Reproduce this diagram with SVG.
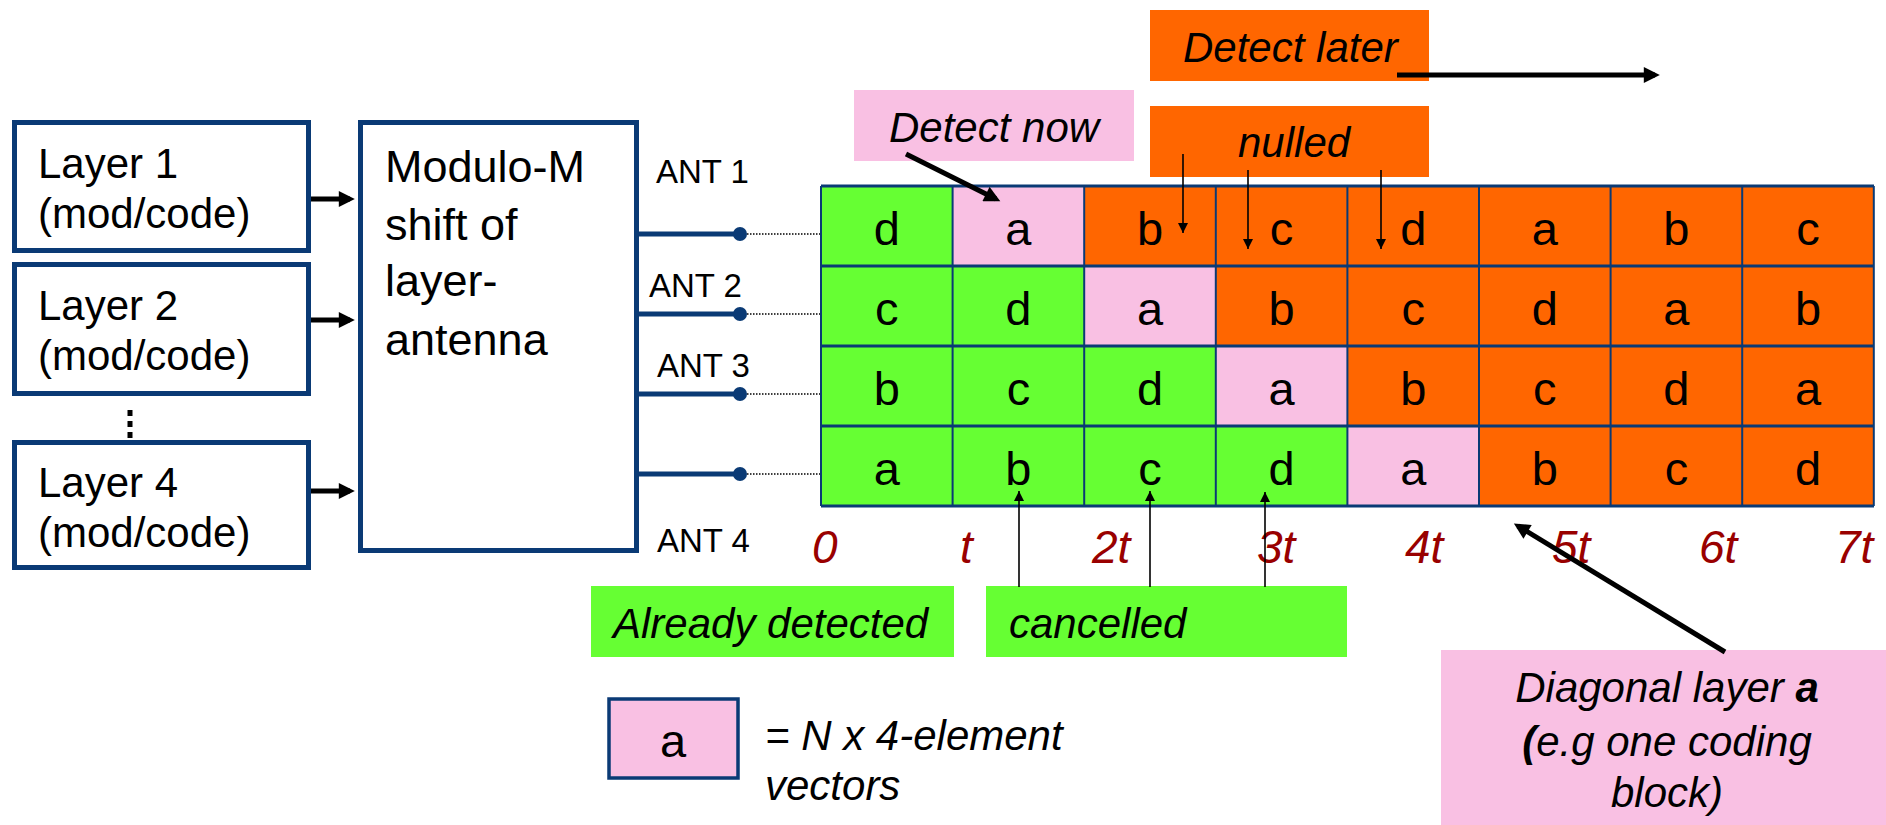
<svg xmlns="http://www.w3.org/2000/svg" width="1886" height="825" viewBox="0 0 1886 825">
  <style>
    .box { fill: #ffffff; stroke: #0A3A75; stroke-width: 5; }
    .lbl { font-family: "Liberation Sans", Arial, sans-serif; fill: #000; }
    .it { font-family: "Liberation Sans", Arial, sans-serif; font-style: italic; fill: #000; font-size: 42px; }
    .cellG { fill: #66FF33; }
    .cellP { fill: #F9C0E3; }
    .cellO { fill: #FF6600; }
    .letter { font-family: "Liberation Sans", Arial, sans-serif; font-size: 47px; fill: #000; text-anchor: middle; }
    .time { font-family: "Liberation Sans", Arial, sans-serif; font-style: italic; font-size: 46px; fill: #990000; }
    .thick { stroke: #000; stroke-width: 5; fill: none; }
    .thin { stroke: #000; stroke-width: 1.6; fill: none; }
    .ant { stroke: #0A3A75; stroke-width: 5; }
    .dots { stroke: #000; stroke-width: 1.5; stroke-dasharray: 1.5 1.5; }
    .gridH { stroke: #0A3A75; stroke-width: 3; }
    .gridV { stroke: #0A3A75; stroke-width: 2; }
  </style>
  <defs>
    <marker id="headThick" viewBox="0 0 10 10" refX="7" refY="5" markerWidth="18" markerHeight="16" markerUnits="userSpaceOnUse" orient="auto">
      <path d="M0,0 L10,5 L0,10 z" fill="#000"/>
    </marker>
    <marker id="headThin" viewBox="0 0 10 10" refX="10" refY="5" markerWidth="16" markerHeight="10" markerUnits="userSpaceOnUse" orient="auto">
      <path d="M0,0 L10,5 L0,10 z" fill="#000"/>
    </marker>
  </defs>

  <!-- layer sources -->
  <g id="layer1">
    <rect class="box" x="14.5" y="122.5" width="294" height="128"/>
    <text class="lbl" font-size="42" x="38" y="178">Layer 1</text>
    <text class="lbl" font-size="42" x="38" y="228">(mod/code)</text>
  </g>
  <g id="layer2">
    <rect class="box" x="14.5" y="264.5" width="294" height="129"/>
    <text class="lbl" font-size="42" x="38" y="320">Layer 2</text>
    <text class="lbl" font-size="42" x="38" y="370">(mod/code)</text>
  </g>
  <g id="ellipsis">
    <line x1="130" y1="410" x2="130" y2="440" stroke="#000" stroke-width="5" stroke-dasharray="6 5"/>
  </g>
  <g id="layer4">
    <rect class="box" x="14.5" y="442.5" width="294" height="125"/>
    <text class="lbl" font-size="42" x="38" y="497">Layer 4</text>
    <text class="lbl" font-size="42" x="38" y="547">(mod/code)</text>
  </g>

  <!-- shifter -->
  <g id="modulo">
    <rect class="box" x="360.5" y="122.5" width="276" height="428"/>
    <text class="lbl" font-size="45" x="385" y="182">Modulo-M</text>
    <text class="lbl" font-size="45" x="385" y="240">shift of</text>
    <text class="lbl" font-size="45" x="385" y="296">layer-</text>
    <text class="lbl" font-size="45" x="385" y="355">antenna</text>
  </g>

  <!-- antenna outputs -->
  <g id="antennas">
    <line class="ant" x1="639" y1="234" x2="740" y2="234"/>
    <line class="ant" x1="639" y1="314" x2="740" y2="314"/>
    <line class="ant" x1="639" y1="394" x2="740" y2="394"/>
    <line class="ant" x1="639" y1="474" x2="740" y2="474"/>
    <circle cx="740" cy="234" r="7" fill="#0A3A75"/>
    <circle cx="740" cy="314" r="7" fill="#0A3A75"/>
    <circle cx="740" cy="394" r="7" fill="#0A3A75"/>
    <circle cx="740" cy="474" r="7" fill="#0A3A75"/>
    <line class="dots" x1="747" y1="234" x2="821" y2="234"/>
    <line class="dots" x1="747" y1="314" x2="821" y2="314"/>
    <line class="dots" x1="747" y1="394" x2="821" y2="394"/>
    <line class="dots" x1="747" y1="474" x2="821" y2="474"/>
    <text class="lbl" font-size="33" x="656" y="183">ANT 1</text>
    <text class="lbl" font-size="33" x="649" y="297">ANT 2</text>
    <text class="lbl" font-size="33" x="657" y="377">ANT 3</text>
    <text class="lbl" font-size="33" x="657" y="552">ANT 4</text>
  </g>

  <!-- space-time grid -->
  <g id="grid">
    <!-- row 1 -->
    <rect class="cellG" x="821" y="186" width="131.6" height="80"/>
    <rect class="cellP" x="952.6" y="186" width="131.6" height="80"/>
    <rect class="cellO" x="1084.2" y="186" width="789.6" height="80"/>
    <!-- row 2 -->
    <rect class="cellG" x="821" y="266" width="263.2" height="80"/>
    <rect class="cellP" x="1084.2" y="266" width="131.6" height="80"/>
    <rect class="cellO" x="1215.8" y="266" width="658" height="80"/>
    <!-- row 3 -->
    <rect class="cellG" x="821" y="346" width="394.8" height="80"/>
    <rect class="cellP" x="1215.8" y="346" width="131.6" height="80"/>
    <rect class="cellO" x="1347.4" y="346" width="526.4" height="80"/>
    <!-- row 4 -->
    <rect class="cellG" x="821" y="426" width="526.4" height="80"/>
    <rect class="cellP" x="1347.4" y="426" width="131.6" height="80"/>
    <rect class="cellO" x="1479" y="426" width="394.8" height="80"/>

    <line class="gridH" x1="821" y1="186" x2="1874" y2="186"/>
    <line class="gridH" x1="821" y1="266" x2="1874" y2="266"/>
    <line class="gridH" x1="821" y1="346" x2="1874" y2="346"/>
    <line class="gridH" x1="821" y1="426" x2="1874" y2="426"/>
    <line class="gridH" x1="821" y1="506" x2="1874" y2="506"/>
    <line class="gridV" x1="821" y1="186" x2="821" y2="506"/>
    <line class="gridV" x1="952.6" y1="186" x2="952.6" y2="506"/>
    <line class="gridV" x1="1084.2" y1="186" x2="1084.2" y2="506"/>
    <line class="gridV" x1="1215.8" y1="186" x2="1215.8" y2="506"/>
    <line class="gridV" x1="1347.4" y1="186" x2="1347.4" y2="506"/>
    <line class="gridV" x1="1479" y1="186" x2="1479" y2="506"/>
    <line class="gridV" x1="1610.6" y1="186" x2="1610.6" y2="506"/>
    <line class="gridV" x1="1742.2" y1="186" x2="1742.2" y2="506"/>
    <line class="gridV" x1="1873.8" y1="186" x2="1873.8" y2="506"/>

    <text class="letter" y="245"><tspan x="886.8">d</tspan><tspan x="1018.4">a</tspan><tspan x="1150">b</tspan><tspan x="1281.6">c</tspan><tspan x="1413.2">d</tspan><tspan x="1544.8">a</tspan><tspan x="1676.4">b</tspan><tspan x="1808">c</tspan></text>
    <text class="letter" y="325"><tspan x="886.8">c</tspan><tspan x="1018.4">d</tspan><tspan x="1150">a</tspan><tspan x="1281.6">b</tspan><tspan x="1413.2">c</tspan><tspan x="1544.8">d</tspan><tspan x="1676.4">a</tspan><tspan x="1808">b</tspan></text>
    <text class="letter" y="405"><tspan x="886.8">b</tspan><tspan x="1018.4">c</tspan><tspan x="1150">d</tspan><tspan x="1281.6">a</tspan><tspan x="1413.2">b</tspan><tspan x="1544.8">c</tspan><tspan x="1676.4">d</tspan><tspan x="1808">a</tspan></text>
    <text class="letter" y="485"><tspan x="886.8">a</tspan><tspan x="1018.4">b</tspan><tspan x="1150">c</tspan><tspan x="1281.6">d</tspan><tspan x="1413.2">a</tspan><tspan x="1544.8">b</tspan><tspan x="1676.4">c</tspan><tspan x="1808">d</tspan></text>
  </g>

  <!-- time axis -->
  <g id="time-axis">
    <text class="time" x="812" y="563">0</text>
    <text class="time" x="960" y="563">t</text>
    <text class="time" x="1092" y="563">2t</text>
    <text class="time" x="1257" y="563">3t</text>
    <text class="time" x="1405" y="563">4t</text>
    <text class="time" x="1552" y="563">5t</text>
    <text class="time" x="1699" y="563">6t</text>
    <text class="time" x="1835" y="563">7t</text>
  </g>

  <!-- callout labels -->
  <g id="detect-later">
    <rect class="cellO" x="1150" y="10" width="279" height="71"/>
    <text class="it" x="1183" y="62">Detect later</text>
  </g>
  <g id="detect-now">
    <rect class="cellP" x="854" y="90" width="280" height="71"/>
    <text class="it" x="889" y="142">Detect now</text>
  </g>
  <g id="nulled">
    <rect class="cellO" x="1150" y="106" width="279" height="71"/>
    <text class="it" x="1238" y="157">nulled</text>
  </g>
  <g id="already-detected">
    <rect class="cellG" x="591" y="586" width="363" height="71"/>
    <text class="it" x="613" y="638">Already detected</text>
  </g>
  <g id="cancelled">
    <rect class="cellG" x="986" y="586" width="361" height="71"/>
    <text class="it" x="1009" y="638">cancelled</text>
  </g>
  <g id="diagonal-layer">
    <rect class="cellP" x="1441" y="650" width="445" height="175"/>
    <text class="it" text-anchor="middle" x="1667" y="702">Diagonal layer <tspan font-weight="bold">a</tspan></text>
    <text class="it" text-anchor="middle" x="1667" y="756"><tspan font-weight="bold">(</tspan>e.g one coding</text>
    <text class="it" text-anchor="middle" x="1667" y="807">block)</text>
  </g>
  <g id="legend">
    <rect x="609" y="699" width="129" height="79" fill="#F9C0E3" stroke="#0A3A75" stroke-width="3.5"/>
    <text class="letter" x="673" y="757">a</text>
    <text class="it" x="765" y="750">= N x 4-element</text>
    <text class="it" x="765" y="800">vectors</text>
  </g>

  <!-- connectors -->
  <g id="connectors">
    <line class="thick" x1="311" y1="199" x2="350" y2="199" marker-end="url(#headThick)"/>
    <line class="thick" x1="311" y1="320" x2="350" y2="320" marker-end="url(#headThick)"/>
    <line class="thick" x1="311" y1="491" x2="350" y2="491" marker-end="url(#headThick)"/>

    <line class="thick" x1="1397" y1="75" x2="1655" y2="75" marker-end="url(#headThick)"/>
    <line class="thick" x1="906" y1="154" x2="996" y2="199" marker-end="url(#headThick)"/>
    <line class="thick" x1="1725" y1="652" x2="1518" y2="526" marker-end="url(#headThick)"/>

    <line class="thin" x1="1183" y1="154" x2="1183" y2="233" marker-end="url(#headThin)"/>
    <line class="thin" x1="1248" y1="170" x2="1248" y2="249" marker-end="url(#headThin)"/>
    <line class="thin" x1="1381" y1="170" x2="1381" y2="249" marker-end="url(#headThin)"/>

    <line class="thin" x1="1019" y1="587" x2="1019" y2="491" marker-end="url(#headThin)"/>
    <line class="thin" x1="1150" y1="587" x2="1150" y2="491" marker-end="url(#headThin)"/>
    <line class="thin" x1="1265" y1="587" x2="1265" y2="492" marker-end="url(#headThin)"/>
  </g>
</svg>
